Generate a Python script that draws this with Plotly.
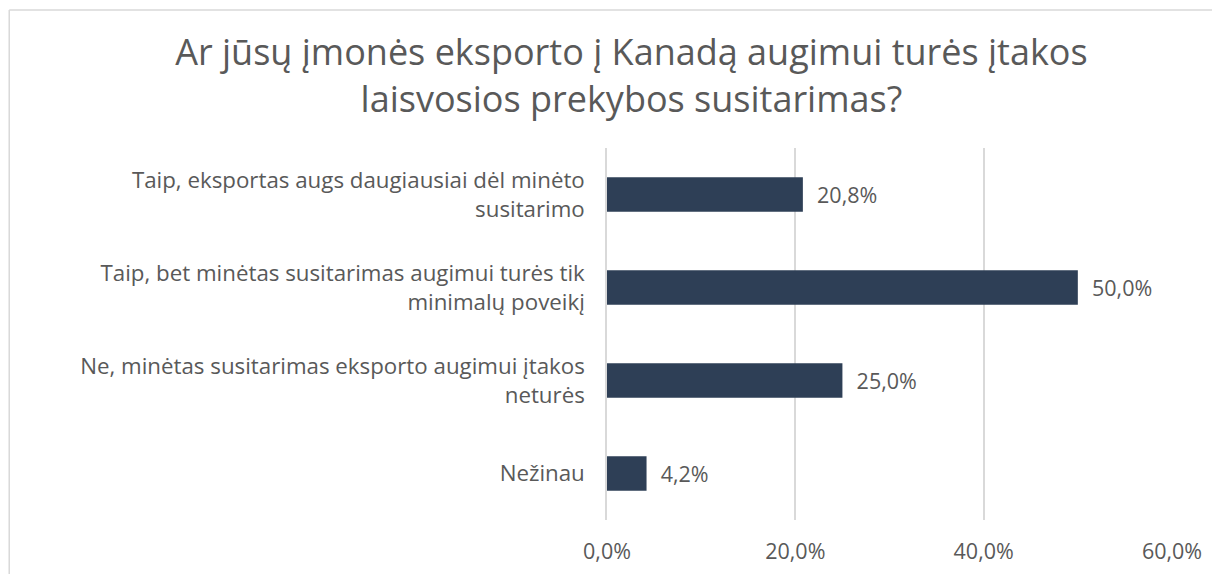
import plotly.graph_objects as go

title_text = "Ar jūsų įmonės eksporto į Kanadą augimui turės įtakos<br>laisvosios prekybos susitarimas?"
categories = [
    "Taip, eksportas augs daugiausiai dėl minėto<br>susitarimo",
    "Taip, bet minėtas susitarimas augimui turės tik<br>minimalų poveikį",
    "Ne, minėtas susitarimas eksporto augimui įtakos<br>neturės",
    "Nežinau",
]
values = [20.8, 50.0, 25.0, 4.2]
tick_values = [0, 20, 40, 60]
tick_labels = ["0,0%", "20,0%", "40,0%", "60,0%"]

FONT = "Open Sans, DejaVu Sans, sans-serif"
GREY = "#595959"

fig = go.Figure(
    go.Bar(
        x=values,
        y=categories,
        orientation="h",
        marker=dict(color="#2E3F56", line=dict(width=0)),
        width=0.37,
        text=["\u00a0\u00a0" + f"{v:.1f}".replace(".", ",") + "%" for v in values],
        textposition="outside",
        textfont=dict(size=21.5, color=GREY, family=FONT),
        cliponaxis=False,
    )
)

fig.update_layout(
    width=1220,
    height=574,
    paper_bgcolor="white",
    plot_bgcolor="white",
    margin=dict(l=599, r=56, t=140, b=62, autoexpand=False),
    showlegend=False,
    title=dict(
        text=title_text,
        x=0.511,
        xanchor="center",
        y=0.90,
        yanchor="middle",
        automargin=False,
        font=dict(size=36, color=GREY, family=FONT),
    ),
    font=dict(family=FONT, color=GREY),
    xaxis=dict(
        range=[0, 60],
        tickvals=tick_values,
        ticktext=tick_labels,
        automargin=False,
        showgrid=True,
        gridcolor="#D9D9D9",
        gridwidth=1.5,
        zeroline=False,
        showline=False,
        tickfont=dict(size=21.5, color=GREY),
        ticks="",
        ticklabelstandoff=16,
    ),
    yaxis=dict(
        autorange="reversed",
        automargin=False,
        showgrid=False,
        zeroline=False,
        showline=True,
        linecolor="#D9D9D9",
        linewidth=1.5,
        ticks="",
        tickfont=dict(size=22.3, color=GREY),
        ticklabelstandoff=16,
    ),
    shapes=[
        dict(type="line", xref="paper", yref="paper",
             x0=-1.058, x1=1.2, y0=1.371, y1=1.371,
             line=dict(color="#D9D9D9", width=1.5)),
        dict(type="line", xref="paper", yref="paper",
             x0=-1.058, x1=-1.058, y0=-0.3, y1=1.371,
             line=dict(color="#D9D9D9", width=1.5)),
    ],
)

fig.write_html("out.html")
